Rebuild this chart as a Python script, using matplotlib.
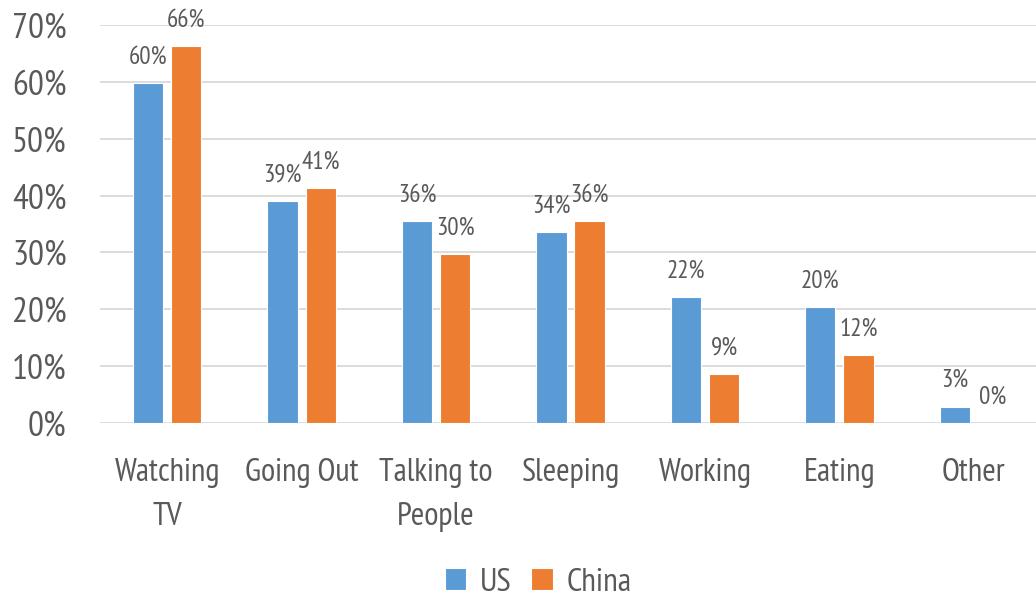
import matplotlib.pyplot as plt
import numpy as np

categories = ['Watching\nTV', 'Going Out', 'Talking to\nPeople', 'Sleeping', 'Working', 'Eating', 'Other']
us = [59.8, 39.0, 35.5, 33.6, 22.1, 20.4, 2.9]
china = [66.3, 41.4, 29.7, 35.5, 8.6, 11.9, 0.0]
yticks = [0, 10, 20, 30, 40, 50, 60, 70]

# narrow face; DejaVu condensed as a fallback
plt.rcParams['font.family'] = ['PT Sans Narrow', 'DejaVu Sans']
plt.rcParams['font.stretch'] = 'condensed'

grey = '#595959'
blue = '#5B9BD5'
orange = '#ED7D31'

fig = plt.figure(figsize=(10.36, 6), dpi=100)
ax = fig.add_axes([100 / 1036, 1 - 423 / 600, 941 / 1036, 398 / 600])

x = np.arange(len(categories))
w = 0.225
off = 0.142
b1 = ax.bar(x - off, us, w, color=blue, edgecolor='white', linewidth=0.8, label='US', zorder=3)
b2 = ax.bar(x + off, china, w, color=orange, edgecolor='white', linewidth=0.8, label='China', zorder=3)

# value labels over each bar
for bars, vals in ((b1, us), (b2, china)):
    for r, v in zip(bars, vals):
        ax.annotate('{:.0f}%'.format(v), (r.get_x() + r.get_width() / 2, v),
                    xytext=(0, 14), textcoords='offset points',
                    ha='center', va='baseline', fontsize=18, color=grey)

ax.set_xlim(-0.5, len(categories) - 0.5)
ax.set_ylim(0, 70)
ax.set_yticks(yticks)
ax.set_yticklabels(['{}%'.format(t) for t in yticks], fontsize=25.5, color=grey)
ax.set_xticks(x)
ax.set_xticklabels(categories, fontsize=23.5, color=grey, linespacing=1.6)
ax.tick_params(length=0)
ax.tick_params(axis='y', pad=24)
ax.tick_params(axis='x', pad=25)
ax.yaxis.grid(color='#D9D9D9', linewidth=1.3, zorder=0)
ax.set_axisbelow(True)
for s in ax.spines.values():
    s.set_visible(False)

fig.legend(handles=[b1, b2], labels=['US', 'China'], loc='center', bbox_to_anchor=(538 / 1036, 1 - 583 / 600),
           ncol=2, frameon=False, fontsize=24, labelcolor=grey, handlelength=0.65, handleheight=0.65,
           handletextpad=0.4, columnspacing=0.6)

fig.savefig('out.png', dpi=100)
